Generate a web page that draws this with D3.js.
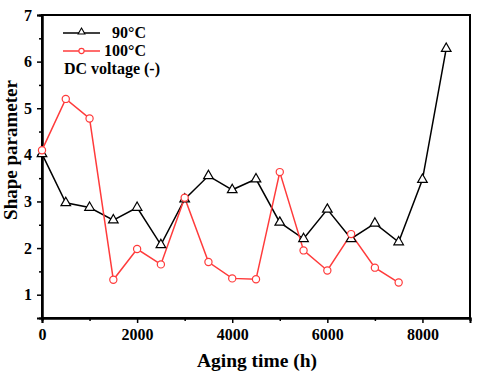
<!DOCTYPE html>
<html><head><meta charset="utf-8">
<script src="https://cdn.jsdelivr.net/npm/d3@7"></script>
<style>body{margin:0;background:#fff}svg{display:block}text{font-family:"Liberation Serif","Times New Roman",serif;font-weight:bold}</style>
</head><body><svg id="c" width="480" height="376"></svg>
<script>
const hours = [0,500,1000,1500,2000,2500,3000,3500,4000,4500,5000,5500,6000,6500,7000,7500,8000,8500];
const s90 = [4.02,2.97,2.87,2.6,2.87,2.07,3.05,3.55,3.25,3.48,2.55,2.2,2.83,2.2,2.53,2.13,3.47,6.28];
const s100 = [4.1,5.2,4.78,1.32,1.98,1.65,3.08,1.7,1.35,1.33,3.63,1.95,1.52,2.3,1.58,1.26];
const xTicks = [0,2000,4000,6000,8000];
const xMinor = [1000,3000,5000,7000,9000];
const yTicks = [1,2,3,4,5,6,7];
const yMinor = [1.5,2.5,3.5,4.5,5.5,6.5];

const svg = d3.select("#c");
const m = {l:42, r:470, t:15, b:318};
const x = d3.scaleLinear().domain([0,9000]).range([m.l, m.r]);
const y = d3.scaleLinear().domain([0.5,7]).range([m.b, m.t]);

svg.append("rect").attr("x",m.l).attr("y",m.t).attr("width",m.r-m.l).attr("height",m.b-m.t)
  .attr("fill","none").attr("stroke","#000").attr("stroke-width",2);

svg.append("g").attr("transform",`translate(0,${m.b})`)
  .call(d3.axisBottom(x).tickValues(xTicks).tickSize(5).tickPadding(6).tickFormat(d3.format("d")));
svg.append("g").attr("transform",`translate(0,${m.b})`)
  .call(d3.axisBottom(x).tickValues(xMinor).tickSize(3).tickFormat(""));
svg.append("g").attr("transform",`translate(${m.l},0)`)
  .call(d3.axisLeft(y).tickValues(yTicks).tickSize(5).tickPadding(5).tickFormat(d3.format("d")));
svg.append("g").attr("transform",`translate(${m.l},0)`)
  .call(d3.axisLeft(y).tickValues(yMinor).tickSize(3).tickFormat(""));
svg.selectAll(".domain").attr("stroke-width",2);
svg.selectAll(".tick line").attr("stroke-width",1.5);
svg.selectAll(".tick text").attr("font-size",16).attr("font-weight","bold").attr("fill","#000")
  .attr("font-family","Liberation Serif, serif");

svg.append("text").attr("x",257).attr("y",367).attr("text-anchor","middle")
  .attr("font-size",19.5).text("Aging time (h)");
svg.append("text").attr("transform",`translate(17,150) rotate(-90)`).attr("text-anchor","middle")
  .attr("font-size",19).text("Shape parameter");

const line = d3.line().x((d,i)=>x(hours[i])).y(d=>y(d));
svg.append("path").datum(s90).attr("d",line).attr("fill","none").attr("stroke","#000").attr("stroke-width",1.5);
svg.append("path").datum(s100).attr("d",line).attr("fill","none").attr("stroke","#ff3b3b").attr("stroke-width",1.5);

const tri = d3.symbol().type(d3.symbolTriangle).size(40);
const triS = d3.symbol().type(d3.symbolTriangle).size(20);
svg.append("g").selectAll("path").data(s90).join("path")
  .attr("d",tri).attr("transform",(d,i)=>`translate(${x(hours[i])},${y(d)})`)
  .attr("fill","#fff").attr("stroke","#000").attr("stroke-width",1.2);
svg.append("g").selectAll("circle").data(s100).join("circle")
  .attr("cx",(d,i)=>x(hours[i])).attr("cy",d=>y(d)).attr("r",3.6)
  .attr("fill","#fff").attr("stroke","#ff3b3b").attr("stroke-width",1.2);

const lg = svg.append("g");
lg.append("line").attr("x1",63).attr("x2",100).attr("y1",33).attr("y2",33).attr("stroke","#000").attr("stroke-width",1.5);
lg.append("path").attr("d",triS).attr("transform","translate(81.5,32)").attr("fill","#fff").attr("stroke","#000").attr("stroke-width",1.1);
lg.append("text").attr("x",112).attr("y",38).attr("font-size",16).text("90°C");
lg.append("line").attr("x1",63).attr("x2",100).attr("y1",51).attr("y2",51).attr("stroke","#ff3b3b").attr("stroke-width",1.5);
lg.append("circle").attr("cx",81.5).attr("cy",51).attr("r",2.6).attr("fill","#fff").attr("stroke","#ff3b3b").attr("stroke-width",1.1);
lg.append("text").attr("x",104).attr("y",56).attr("font-size",16).text("100°C");
lg.append("text").attr("x",64).attr("y",74).attr("font-size",16).text("DC voltage (-)");
</script></body></html>
